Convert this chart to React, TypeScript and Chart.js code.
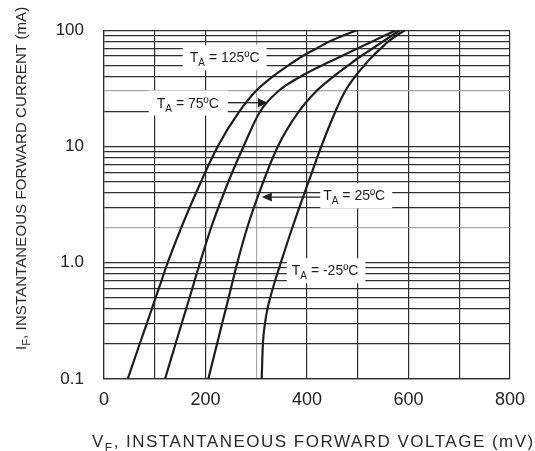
import { useEffect, useRef } from "react";
import { Chart, registerables } from "chart.js";

Chart.register(...registerables);

const FONT = "'Liberation Sans', Arial, Helvetica, sans-serif";

// Forward current levels (mA) at which each curve was read
const currentsMA = [0.1, 0.2, 0.3, 0.4, 0.5, 0.7, 1, 2, 5, 10, 20, 30, 40, 50, 60, 70, 80, 90, 100];
// Forward voltage (mV) of each temperature curve at those currents
const vfTa125 = [46.7, 70.3, 84.3, 94.2, 101.7, 113.3, 125.5, 152.1, 191.3, 224.0, 266.8, 299.3, 332.8, 363.9, 391.5, 419.7, 444.1, 471.3, 498.5];
const vfTa75 = [120.2, 140.9, 153.1, 161.8, 168.5, 178.5, 189.2, 211.0, 245.3, 274.9, 307.6, 343.8, 387.6, 430.3, 468.4, 500.7, 528.7, 553.3, 575.6];
const vfTa25 = [205.5, 222.7, 232.8, 240.0, 245.5, 253.8, 262.7, 282.2, 314.1, 342.5, 384.0, 418.7, 452.6, 481.8, 506.6, 529.9, 549.8, 567.3, 583.3];
const vfTaM25 = [310.7, 313.1, 317.2, 322.0, 327.5, 337.1, 348.4, 371.0, 403.3, 428.2, 456.0, 475.3, 494.8, 513.3, 529.7, 546.0, 560.4, 576.4, 592.9];

// Axis ticks / grid
const xGridValues = [0, 100, 200, 300, 400, 500, 600, 700, 800];
const xTickLabels = ["0", "", "200", "", "400", "", "600", "", "800"];
const yGridValues = [
  0.1, 0.2, 0.3, 0.4, 0.5, 0.6, 0.7, 0.8, 0.9,
  1, 2, 3, 4, 5, 6, 7, 8, 9,
  10, 20, 30, 40, 50, 60, 70, 80, 90,
  100,
];
const yLabelValues = [0.1, 1, 10, 100];
const yLabelTexts = ["0.1", "1.0", "10", "100"];

// Curve annotations
const labelTemps = ["125ºC", "75ºC", "25ºC", "-25ºC"];

const ANNOTATION_LAYOUT = [
  { vf: 169, ia: 53, padL: 7, padR: 7, arrow: null as null | { vf: number; ia: number; side: string } },
  { vf: 104, ia: 21.6, padL: 8, padR: 9, arrow: { vf: 323, ia: 23.8, side: "right" } },
  { vf: 432, ia: 3.44, padL: 3, padR: 7, arrow: { vf: 311, ia: 3.67, side: "left" } },
  { vf: 370, ia: 0.78, padL: 5, padR: 7, arrow: null },
];

const GRID = "#2e2e2e";
const GRID_LIGHT = "#a8a8a8";
const INK = "#1e1e1e";

type Part = { t: string; sub?: boolean };

function drawParts(ctx: CanvasRenderingContext2D, x: number, y: number, parts: Part[], size: number, spacing = 0) {
  let cx = x;
  for (const p of parts) {
    const s = p.sub ? Math.round(size * 0.72) : size;
    ctx.font = `${s}px ${FONT}`;
    (ctx as any).letterSpacing = `${spacing}px`;
    ctx.fillText(p.t, cx, p.sub ? y + size * 0.28 : y);
    cx += ctx.measureText(p.t).width;
  }
  (ctx as any).letterSpacing = "0px";
  return cx - x;
}

function measureParts(ctx: CanvasRenderingContext2D, parts: Part[], size: number) {
  let w = 0;
  for (const p of parts) {
    const s = p.sub ? Math.round(size * 0.72) : size;
    ctx.font = `${s}px ${FONT}`;
    w += ctx.measureText(p.t).width;
  }
  return w;
}

const LABEL_SIZE = 14;

function labelParts(temp: string): Part[] {
  return [{ t: "T" }, { t: "A", sub: true }, { t: " = " + temp }];
}

const annotationPlugin = {
  id: "curveAnnotations",
  beforeDatasetsDraw(chart: any) {
    const { ctx, scales } = chart;
    const x = scales.x;
    const y = scales.y;
    ctx.save();
    ANNOTATION_LAYOUT.forEach((a, i) => {
      const px = x.getPixelForValue(a.vf);
      const py = y.getPixelForValue(a.ia);
      const w = measureParts(ctx, labelParts(labelTemps[i]), LABEL_SIZE);
      ctx.fillStyle = "#ffffff";
      ctx.fillRect(px - a.padL, py - 17, w + a.padL + a.padR, 25);
    });
    ctx.restore();
  },
  afterDatasetsDraw(chart: any) {
    const { ctx, scales } = chart;
    const x = scales.x;
    const y = scales.y;
    ctx.save();
    ctx.fillStyle = INK;
    ctx.strokeStyle = INK;
    ctx.textBaseline = "alphabetic";
    ctx.textAlign = "left";
    ANNOTATION_LAYOUT.forEach((a, i) => {
      const px = x.getPixelForValue(a.vf);
      const py = y.getPixelForValue(a.ia);
      const w = drawParts(ctx, px, py, labelParts(labelTemps[i]), LABEL_SIZE);
      if (a.arrow) {
        const tx = x.getPixelForValue(a.arrow.vf);
        const ty = y.getPixelForValue(a.arrow.ia);
        const sx = a.arrow.side === "right" ? px + w + 9 : px - 3;
        const dir = tx > sx ? 1 : -1;
        const headLen = 10;
        ctx.lineWidth = 1.3;
        ctx.beginPath();
        ctx.moveTo(sx, ty);
        ctx.lineTo(tx - dir * headLen, ty);
        ctx.stroke();
        ctx.beginPath();
        ctx.moveTo(tx, ty);
        ctx.lineTo(tx - dir * headLen, ty - 4.5);
        ctx.lineTo(tx - dir * headLen, ty + 4.5);
        ctx.closePath();
        ctx.fill();
      }
    });
    ctx.restore();
  },
  afterDraw(chart: any) {
    const { ctx, chartArea } = chart;
    ctx.save();
    ctx.fillStyle = "#2a2a2a";
    ctx.textBaseline = "alphabetic";
    ctx.textAlign = "left";
    // X axis title
    drawParts(
      ctx,
      chartArea.left - 12,
      chartArea.bottom + 68,
      [{ t: "V" }, { t: "F", sub: true }, { t: ", INSTANTANEOUS FORWARD VOLTAGE (mV)" }],
      17,
      1.5
    );
    // Y axis title (rotated)
    ctx.translate(chartArea.left - 78, chartArea.bottom - 29);
    ctx.rotate(-Math.PI / 2);
    drawParts(
      ctx,
      0,
      0,
      [{ t: "I" }, { t: "F", sub: true }, { t: ", INSTANTANEOUS FORWARD CURRENT (mA)" }],
      15,
      0.1
    );
    ctx.restore();
  },
};

function toPoints(vf: number[]) {
  return vf.map((v, i) => ({ x: v, y: currentsMA[i] }));
}

export default function App() {
  const ref = useRef<HTMLCanvasElement>(null);

  useEffect(() => {
    const canvas = ref.current;
    if (!canvas) return;
    const curve = (label: string, vf: number[]) => ({
      label,
      data: toPoints(vf),
      borderColor: INK,
      borderWidth: 2.2,
      pointRadius: 0,
      fill: false,
      cubicInterpolationMode: "monotone" as const,
    });
    const chart = new Chart(canvas, {
      type: "line",
      data: {
        datasets: [
          curve("TA = 125°C", vfTa125),
          curve("TA = 75°C", vfTa75),
          curve("TA = 25°C", vfTa25),
          curve("TA = -25°C", vfTaM25),
        ],
      },
      options: {
        responsive: false,
        animation: false,
        events: [],
        layout: { padding: { top: 22, right: 25, left: 0, bottom: 0 } },
        plugins: { legend: { display: false }, tooltip: { enabled: false } },
        scales: {
          x: {
            type: "linear",
            min: 0,
            max: 800,
            afterFit: (s: any) => {
              s.height = 72;
            },
            afterBuildTicks: (s: any) => {
              s.ticks = xGridValues.map((v) => ({ value: v }));
            },
            ticks: {
              autoSkip: false,
              maxRotation: 0,
              padding: 10,
              color: "#222",
              font: { family: FONT, size: 18 },
              callback: (v: any) => {
                const i = xGridValues.indexOf(Number(v));
                return i >= 0 ? xTickLabels[i] : "";
              },
            },
            grid: {
              drawTicks: false,
              lineWidth: 1.2,
              color: (c: any) => (c.tick && c.tick.value === 300 ? GRID_LIGHT : GRID),
            },
            border: { color: GRID, width: 1.2 },
          },
          y: {
            type: "logarithmic",
            min: 0.1,
            max: 100,
            afterFit: (s: any) => {
              s.width = 104;
            },
            afterBuildTicks: (s: any) => {
              s.ticks = yGridValues.map((v) => ({ value: v }));
            },
            ticks: {
              autoSkip: false,
              padding: 20,
              color: "#222",
              font: { family: FONT, size: 17 },
              callback: (v: any) => {
                const i = yLabelValues.indexOf(Number(v));
                return i >= 0 ? yLabelTexts[i] : "";
              },
            },
            grid: {
              drawTicks: false,
              lineWidth: 1.2,
              color: (c: any) =>
                c.tick && (c.tick.value === 2 || c.tick.value === 30) ? GRID_LIGHT : GRID,
            },
            border: { color: GRID, width: 1.2 },
          },
        },
      },
      plugins: [annotationPlugin],
    });
    return () => chart.destroy();
  }, []);

  return (
    <div style={{ position: "absolute", left: 0, top: 0, width: 535, height: 451, background: "#fff" }}>
      <canvas ref={ref} width={535} height={451} style={{ display: "block", width: 535, height: 451 }} />
    </div>
  );
}
